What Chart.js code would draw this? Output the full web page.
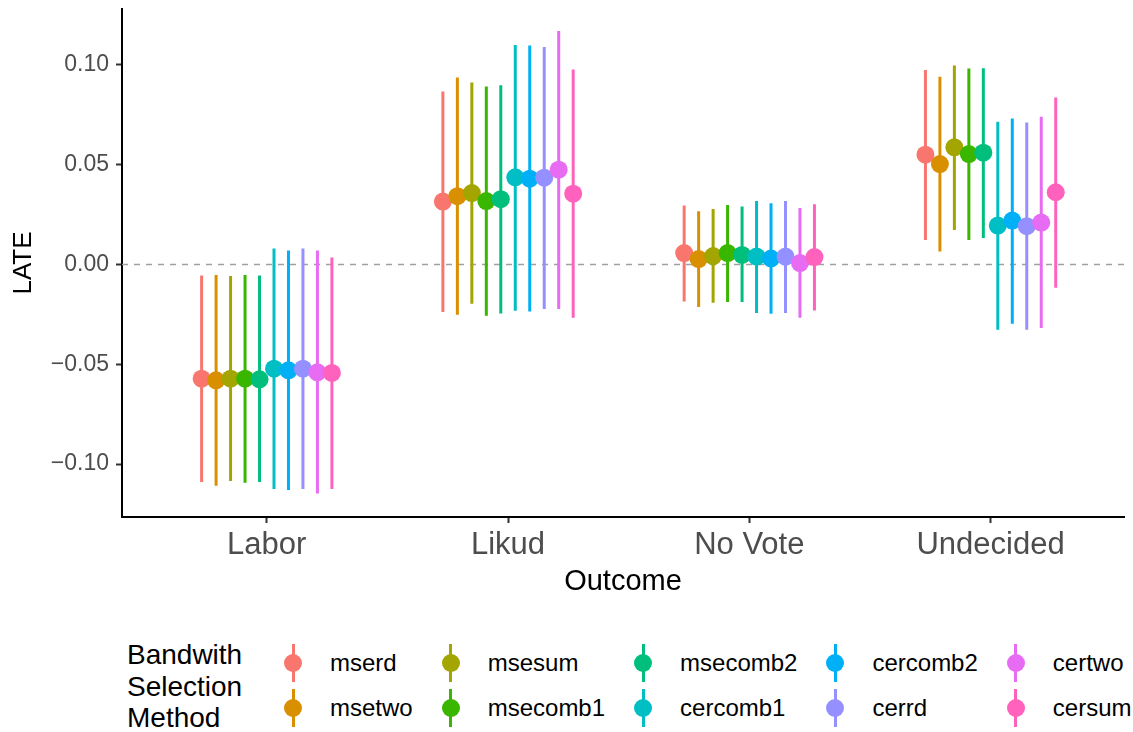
<!DOCTYPE html>
<html>
<head>
<meta charset="utf-8">
<script src="https://cdn.jsdelivr.net/npm/chart.js@4.4.1/dist/chart.umd.min.js"></script>
<style>
  body { margin: 0; background: #fff; font-family: "Liberation Sans", Arial, sans-serif; }
  #wrap { position: relative; width: 1133px; height: 732px; overflow: hidden; }
  #chart { position: absolute; left: 0; top: 0; }
  #legend-title { position: absolute; left: 127px; top: 639px; font-size: 28px; line-height: 31.5px; color: #000; }
  #legend { position: absolute; left: 283px; top: 640px; display: flex; gap: 28px; }
  .lg-col { display: flex; flex-direction: column; }
  .lg-item { display: flex; align-items: center; height: 45px; }
  .lg-key { position: relative; width: 20px; height: 40px; }
  .lg-key .bar { position: absolute; left: 8.5px; top: 1px; width: 3px; height: 38px; }
  .lg-key .dot { position: absolute; left: 1px; top: 11px; width: 18px; height: 18px; border-radius: 50%; }
  .lg-label { margin-left: 27px; font-size: 24px; color: #000; white-space: nowrap; }
</style>
</head>
<body>
<div id="wrap">
  <canvas id="chart" width="1133" height="600"></canvas>
  <div id="legend-title">Bandwith<br>Selection<br>Method</div>
  <div id="legend"></div>
</div>
<script>
// outcome categories and bandwidth methods
const outcomes = ['Labor', 'Likud', 'No Vote', 'Undecided'];
const methods = ['mserd', 'msetwo', 'msesum', 'msecomb1', 'msecomb2', 'cercomb1', 'cercomb2', 'cerrd', 'certwo', 'cersum'];
const colors = ['#F8766D', '#D89000', '#A3A500', '#39B600', '#00BF7D', '#00BFC4', '#00B0F6', '#9590FF', '#E76BF3', '#FF62BC'];

// point estimates and interval ends, one value per method
const estLabor = [-0.0572, -0.0580, -0.0572, -0.0572, -0.0575, -0.0522, -0.0530, -0.0522, -0.0540, -0.0543];
const loLabor  = [-0.1090, -0.1108, -0.1085, -0.1093, -0.1090, -0.1125, -0.1130, -0.1125, -0.1147, -0.1125];
const hiLabor  = [-0.0055, -0.0052, -0.0058, -0.0052, -0.0055, 0.0080, 0.0070, 0.0080, 0.0070, 0.0035];

const estLikud = [0.0315, 0.0342, 0.0358, 0.0318, 0.0327, 0.0437, 0.0430, 0.0435, 0.0475, 0.0355];
const loLikud  = [-0.0238, -0.0252, -0.0197, -0.0257, -0.0245, -0.0232, -0.0235, -0.0223, -0.0223, -0.0267];
const hiLikud  = [0.0867, 0.0937, 0.0912, 0.0892, 0.0898, 0.1100, 0.1097, 0.1090, 0.1170, 0.0977];

const estNoVote = [0.0057, 0.0027, 0.0042, 0.0057, 0.0048, 0.0040, 0.0030, 0.0040, 0.0007, 0.0037];
const loNoVote  = [-0.0185, -0.0213, -0.0192, -0.0188, -0.0188, -0.0243, -0.0247, -0.0243, -0.0267, -0.0230];
const hiNoVote  = [0.0295, 0.0267, 0.0278, 0.0298, 0.0290, 0.0318, 0.0307, 0.0318, 0.0283, 0.0302];

const estUndecided = [0.0550, 0.0503, 0.0587, 0.0553, 0.0560, 0.0195, 0.0220, 0.0192, 0.0210, 0.0362];
const loUndecided  = [0.0123, 0.0065, 0.0173, 0.0123, 0.0133, -0.0327, -0.0297, -0.0327, -0.0318, -0.0117];
const hiUndecided  = [0.0975, 0.0940, 0.0997, 0.0982, 0.0983, 0.0715, 0.0732, 0.0712, 0.0740, 0.0837];

const yTicks = [-0.10, -0.05, 0.00, 0.05, 0.10];

const estimates = [estLabor, estLikud, estNoVote, estUndecided];
const lowers = [loLabor, loLikud, loNoVote, loUndecided];
const uppers = [hiLabor, hiLikud, hiNoVote, hiUndecided];

const dodge = 0.6;
const font = '"Liberation Sans", Arial, sans-serif';

function xPos(cat, j) {
    return cat + 1 + (j - (methods.length - 1) / 2) * dodge / methods.length;
}

const datasets = [];
methods.forEach((m, j) => {
    const seg = [];
    const pts = [];
    outcomes.forEach((o, i) => {
        const x = xPos(i, j);
        seg.push({ x, y: lowers[i][j] }, { x, y: uppers[i][j] }, { x, y: null });
        pts.push({ x, y: estimates[i][j] });
    });
    datasets.push({
        type: 'line', label: m + ' ci', data: seg,
        borderColor: colors[j], borderWidth: 3, pointRadius: 0, spanGaps: false,
        order: 100 - 2 * j
    });
    datasets.push({
        type: 'line', label: m, data: pts, showLine: false,
        backgroundColor: colors[j], borderWidth: 0, pointRadius: 9, pointHoverRadius: 9,
        order: 99 - 2 * j
    });
});

const zeroLine = {
    id: 'zeroLine',
    beforeDatasetsDraw(chart) {
        const { ctx, chartArea } = chart;
        const y = chart.scales.y.getPixelForValue(0);
        ctx.save();
        ctx.strokeStyle = '#a0a0a0';
        ctx.lineWidth = 1.5;
        ctx.setLineDash([6, 6]);
        ctx.beginPath();
        ctx.moveTo(chartArea.left, y);
        ctx.lineTo(chartArea.right, y);
        ctx.stroke();
        ctx.restore();
    }
};

new Chart(document.getElementById('chart'), {
    type: 'line',
    data: { datasets },
    plugins: [zeroLine],
    options: {
        responsive: false,
        animation: false,
        devicePixelRatio: 1,
        layout: { padding: { top: 8, right: 3, left: 0, bottom: 0 } },
        plugins: { legend: { display: false }, tooltip: { enabled: false } },
        scales: {
            x: {
                type: 'linear', min: 0.4, max: 4.553,
                afterBuildTicks: s => { s.ticks = outcomes.map((o, i) => ({ value: i + 1 })); },
                afterFit: s => { s.height = 83; s.paddingLeft = 0; s.paddingRight = 0; },
                ticks: {
                    callback: v => outcomes[Math.round(v) - 1],
                    font: { family: font, size: 31 }, color: '#4D4D4D', padding: 4, maxRotation: 0
                },
                grid: { drawOnChartArea: false, drawTicks: true, tickLength: 6, tickColor: '#333', tickWidth: 2 },
                border: { display: true, color: '#000', width: 2 },
                title: { display: true, text: 'Outcome', font: { family: font, size: 29 }, color: '#000', padding: { top: 0, bottom: 1 } }
            },
            y: {
                type: 'linear', min: -0.1265, max: 0.128,
                afterBuildTicks: s => { s.ticks = yTicks.map(v => ({ value: v })); },
                afterFit: s => { s.width = 122; s.paddingTop = 0; s.paddingBottom = 0; },
                ticks: {
                    callback: v => v.toFixed(2).replace('-', '\u2212'),
                    font: { family: font, size: 23 }, color: '#4D4D4D', padding: 7
                },
                grid: { drawOnChartArea: false, drawTicks: true, tickLength: 6, tickColor: '#333', tickWidth: 2 },
                border: { display: true, color: '#000', width: 2 },
                title: { display: true, text: 'LATE', font: { family: font, size: 26 }, color: '#000', padding: { top: 8, bottom: 0 } }
            }
        }
    }
});

// ggplot-style legend: two rows, filled column by column
const legend = document.getElementById('legend');
for (let c = 0; c < methods.length; c += 2) {
    const col = document.createElement('div');
    col.className = 'lg-col';
    [c, c + 1].forEach(j => {
        col.innerHTML += `
            <div class="lg-item">
                <div class="lg-key"><div class="bar" style="background:${colors[j]}"></div><div class="dot" style="background:${colors[j]}"></div></div>
                <div class="lg-label">${methods[j]}</div>
            </div>`;
    });
    legend.appendChild(col);
}
</script>
</body>
</html>
